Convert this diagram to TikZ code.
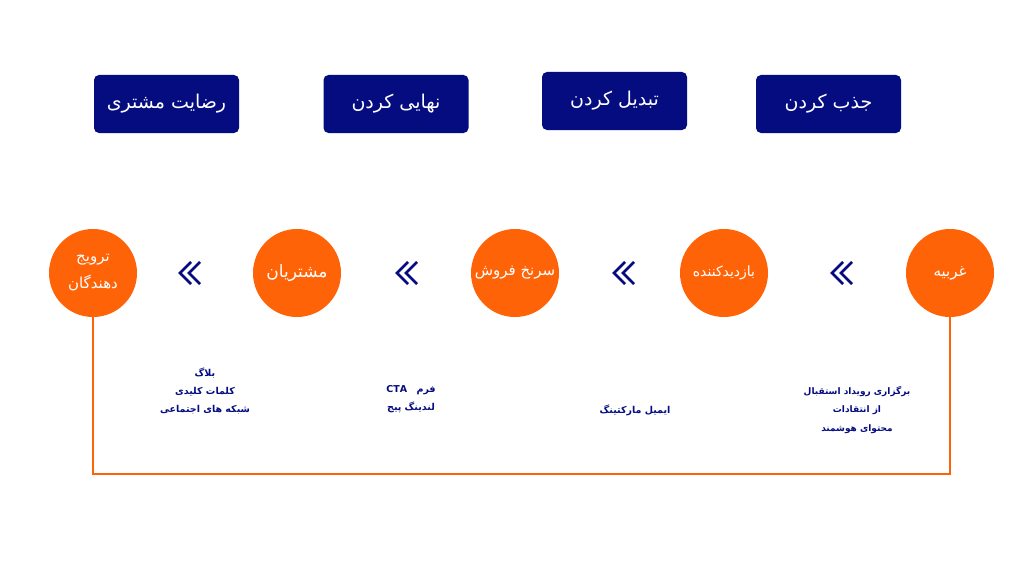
\documentclass[tikz,border=0pt]{standalone}
\usepackage{fontspec}
\newfontfamily\arabicfont[Script=Arabic]{DejaVu Sans}
\TeXXeTstate=1
\definecolor{navy}{HTML}{050C80}
\definecolor{orng}{HTML}{FF6308}
\tikzset{
  box/.style={fill=navy, rounded corners=5pt, minimum width=145pt, minimum height=58pt, text=white, inner sep=0pt,
    font=\arabicfont\fontsize{19}{22}\selectfont},
  circ/.style={circle, fill=orng, minimum size=88pt, text=white, inner sep=0pt, align=center,
    font=\arabicfont\fontsize{15}{27}\selectfont},
  lbl/.style={text=navy, align=center, inner sep=0pt, font=\arabicfont\bfseries\fontsize{9.5}{18}\selectfont},
  chev/.style={navy, line width=2.8pt},
  link/.style={orng, line width=1.8pt}
}
\begin{document}
\begin{tikzpicture}[x=1pt,y=-1pt]
\useasboundingbox[fill=white] (0,0) rectangle (1024,567);
% top boxes
\node[box] (b1) at (166.5,104) {\beginR رضایت مشتری\endR};
\node[box] (b2) at (396,104) {\beginR نهایی کردن\endR};
\node[box] (b3) at (614.5,101) {\beginR تبدیل کردن\endR};
\node[box] (b4) at (828.5,104) {\beginR جذب کردن\endR};
% circles
\node[circ] (c1) at (93,273) {\beginR ترویج\endR\\\beginR دهندگان\endR};
\node[circ, font=\arabicfont\fontsize{17}{22}\selectfont] (c2) at (297,273) {\beginR مشتریان\endR};
\node[circ] (c3) at (515,273) {\beginR سرنخ فروش\endR};
\node[circ, font=\arabicfont\fontsize{14}{22}\selectfont] (c4) at (724,273) {\beginR بازدیدکننده\endR};
\node[circ] (c5) at (950,273) {\beginR غربیه\endR};
% chevrons
\foreach \x in {188,405,622,840}{
  \draw[chev] (\x+3,262) -- (\x-8,273) -- (\x+3,284);
  \draw[chev] (\x+12,262) -- (\x+1,273) -- (\x+12,284);
}
% labels
\node[lbl] (t1) at (205,391) {\beginR بلاگ\endR\\\beginR کلمات کلیدی\endR\\\beginR شبکه های اجتماعی\endR};
\node[lbl] (t2) at (411,399.5) {\beginR فرم\quad\beginL CTA\endL\endR\\\beginR لندینگ پیج\endR};
\node[lbl] (t3) at (635,410) {\beginR ایمیل مارکتینگ\endR};
\node[lbl, font=\arabicfont\bfseries\fontsize{9}{18}\selectfont] (t4) at (857,410) {\beginR برگزاری رویداد استقبال\endR\\\beginR از انتقادات\endR\\\beginR محتوای هوشمند\endR};
% connector
\coordinate (br) at (950,474);
\coordinate (bl) at (93,474);
\draw[link] (c5.south) -- (br) -- (bl) -- (c1.south);
\end{tikzpicture}
\end{document}
